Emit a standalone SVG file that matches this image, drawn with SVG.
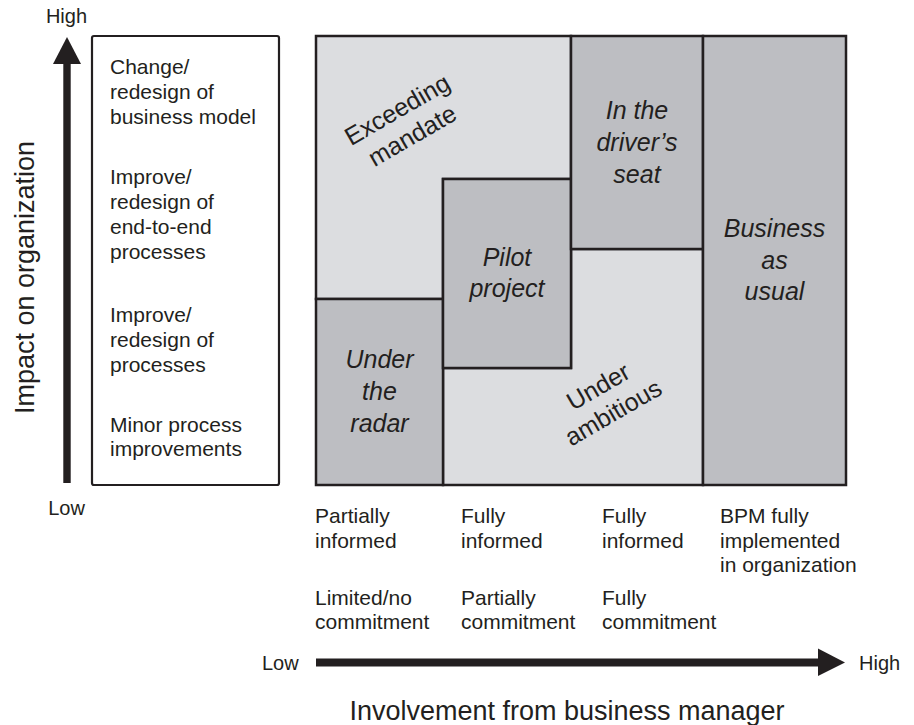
<svg xmlns="http://www.w3.org/2000/svg" width="914" height="725" viewBox="0 0 914 725">
<style>
.t{font-family:"Liberation Sans",Arial,sans-serif;fill:#231f20}
.s21{font-size:21px}
.s20{font-size:20px}
.s27{font-size:27px}
.lab{font-family:"Liberation Sans",Arial,sans-serif;fill:#231f20;font-size:25px;text-anchor:middle}
.it{font-style:italic}
.light{fill:#dcdde0;stroke:#231f20;stroke-width:2.5;stroke-linejoin:miter}
.dark{fill:#bdbec2;stroke:#231f20;stroke-width:2.5;stroke-linejoin:miter}
.arr{fill:#231f20}
</style>
<rect width="914" height="725" fill="#ffffff"/>

<g id="axis-y">
  <rect class="arr" x="63.3" y="62" width="7.4" height="421"/>
  <polygon class="arr" points="67,37 81,64 53,64"/>
  <text class="t s20" x="66.5" y="23" text-anchor="middle">High</text>
  <text class="t s20" x="66.5" y="515" text-anchor="middle">Low</text>
  <text class="t s27" transform="translate(33.5,277.5) rotate(-90)" text-anchor="middle">Impact on organization</text>
</g>

<g id="impact-levels">
  <rect x="92" y="36" width="187" height="449" rx="2" fill="#ffffff" stroke="#231f20" stroke-width="2.2"/>
  <text class="t s21" x="110" y="74">Change/</text>
  <text class="t s21" x="110" y="99">redesign of</text>
  <text class="t s21" x="110" y="124">business model</text>
  <text class="t s21" x="110" y="184">Improve/</text>
  <text class="t s21" x="110" y="209">redesign of</text>
  <text class="t s21" x="110" y="234">end-to-end</text>
  <text class="t s21" x="110" y="259">processes</text>
  <text class="t s21" x="110" y="322">Improve/</text>
  <text class="t s21" x="110" y="347">redesign of</text>
  <text class="t s21" x="110" y="372">processes</text>
  <text class="t s21" x="110" y="432">Minor process</text>
  <text class="t s21" x="110" y="456">improvements</text>
</g>

<g id="exceeding-mandate">
  <polygon class="light" points="316,36 571,36 571,179 443,179 443,299 316,299"/>
  <g transform="translate(405,123) rotate(-30)">
    <text class="lab" x="0" y="-7">Exceeding</text>
    <text class="lab" x="0" y="23">mandate</text>
  </g>
</g>

<g id="under-ambitious">
  <polygon class="light" points="443,368 571,368 571,249 703,249 703,485 443,485"/>
  <g transform="translate(606,400) rotate(-30)">
    <text class="lab" x="0" y="-7">Under</text>
    <text class="lab" x="0" y="23">ambitious</text>
  </g>
</g>

<g id="under-the-radar">
  <rect class="dark" x="316" y="299" width="127" height="186"/>
  <text class="lab it" x="379.5" y="368">Under</text>
  <text class="lab it" x="379.5" y="400">the</text>
  <text class="lab it" x="379.5" y="432">radar</text>
</g>

<g id="pilot-project">
  <rect class="dark" x="443" y="179" width="128" height="189"/>
  <text class="lab it" x="507" y="266">Pilot</text>
  <text class="lab it" x="507" y="297">project</text>
</g>

<g id="drivers-seat">
  <rect class="dark" x="571" y="36" width="132" height="213"/>
  <text class="lab it" x="637" y="119">In the</text>
  <text class="lab it" x="637" y="151">driver’s</text>
  <text class="lab it" x="637" y="183">seat</text>
</g>

<g id="business-as-usual">
  <rect class="dark" x="703" y="36" width="143" height="449"/>
  <text class="lab it" x="774.5" y="237">Business</text>
  <text class="lab it" x="774.5" y="268.5">as</text>
  <text class="lab it" x="774.5" y="300">usual</text>
</g>

<g id="involvement-levels">
  <text class="t s21" x="315" y="523">Partially</text>
  <text class="t s21" x="315" y="547.5">informed</text>
  <text class="t s21" x="315" y="605">Limited/no</text>
  <text class="t s21" x="315" y="629">commitment</text>
  <text class="t s21" x="461" y="523">Fully</text>
  <text class="t s21" x="461" y="547.5">informed</text>
  <text class="t s21" x="461" y="605">Partially</text>
  <text class="t s21" x="461" y="629">commitment</text>
  <text class="t s21" x="602" y="523">Fully</text>
  <text class="t s21" x="602" y="547.5">informed</text>
  <text class="t s21" x="602" y="605">Fully</text>
  <text class="t s21" x="602" y="629">commitment</text>
  <text class="t s21" x="720" y="523">BPM fully</text>
  <text class="t s21" x="720" y="547.5">implemented</text>
  <text class="t s21" x="720" y="572">in organization</text>
</g>

<g id="axis-x">
  <rect class="arr" x="316" y="658.5" width="504" height="8"/>
  <polygon class="arr" points="818,648.5 845,662.5 818,676"/>
  <text class="t s20" x="262" y="670">Low</text>
  <text class="t s20" x="859" y="670">High</text>
  <text class="t s27" x="567" y="720" text-anchor="middle">Involvement from business manager</text>
</g>
</svg>
